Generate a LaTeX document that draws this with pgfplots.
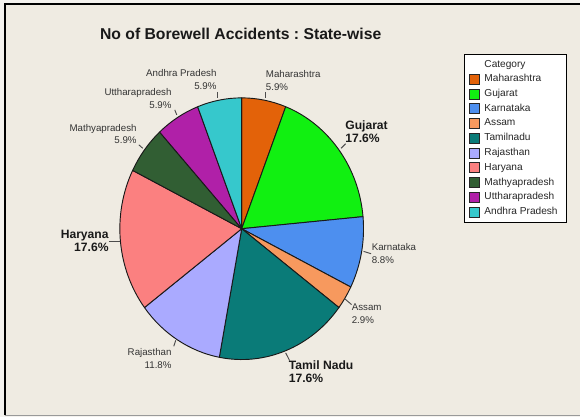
\documentclass[border=0pt]{standalone}
\usepackage{fontspec}
\setmainfont{Liberation Sans}
\usepackage{pgfplots}
\usepackage{pgfplotstable}
\pgfplotsset{compat=1.18}
\frenchspacing

\definecolor{outerbg}{HTML}{F4F2EE}
\definecolor{bg}{HTML}{EFEBE2}
\definecolor{cMah}{HTML}{E36209}
\definecolor{cGuj}{HTML}{11F011}
\definecolor{cKar}{HTML}{4D8FEF}
\definecolor{cAss}{HTML}{F7995E}
\definecolor{cTam}{HTML}{0A7B78}
\definecolor{cRaj}{HTML}{AAAAFF}
\definecolor{cHar}{HTML}{FB8080}
\definecolor{cMat}{HTML}{315E33}
\definecolor{cUtt}{HTML}{B020A8}
\definecolor{cAnd}{HTML}{36C8CC}
\definecolor{lbl}{HTML}{333333}

\pgfplotstableread[col sep=comma]{
state,count,pct,fillc
Maharashtra,2,5.9,cMah
Gujarat,6,17.6,cGuj
Karnataka,3,8.8,cKar
Assam,1,2.9,cAss
Tamilnadu,6,17.6,cTam
Rajasthan,4,11.8,cRaj
Haryana,6,17.6,cHar
Mathyapradesh,2,5.9,cMat
Uttharapradesh,2,5.9,cUtt
Andhra Pradesh,2,5.9,cAnd
}\piedata

\newcommand{\reg}{\fontsize{7.3}{9.75}\selectfont}
\newcommand{\bld}{\fontsize{9.1}{9.7}\selectfont\bfseries}

\begin{document}
\begin{tikzpicture}
\begin{axis}[
  x=0.75pt, y=0.75pt,
  xmin=0, xmax=581, ymin=0, ymax=418,
  hide axis, clip=false,
  legend cell align=left,
  legend image code/.code={\draw[#1, draw=black!85, line width=0.5pt] (0pt,-3.75pt) rectangle (7.5pt,3.75pt);},
  legend style={at={(axis cs:465,364)}, anchor=north west, draw=black, line width=0.6pt,
    fill=white, inner xsep=3pt, inner ysep=4pt, row sep=3.1pt, column sep=0pt,
    font=\fontsize{7.6}{9}\selectfont, text=black!85,
    nodes={inner xsep=3.75pt, inner ysep=0pt, text height=5.6pt, text depth=1.9pt}},
]
% background and frame
\fill[outerbg] (axis cs:0,0) rectangle (axis cs:581,418);
\fill[bg] (axis cs:5,2) rectangle (axis cs:581,414);
\draw[black, line width=1.1pt] (axis cs:5,2) -- (axis cs:5,414) -- (axis cs:581,414);
\draw[black!40, line width=1pt] (axis cs:5,2) -- (axis cs:581,2);

% legend header
\addlegendimage{empty legend}
\addlegendentry{Category}

% wedges from the table
\xdef\cum{0}
\pgfplotsinvokeforeach{0,...,9}{%
  \pgfplotstablegetelem{#1}{count}\of\piedata \let\cnt\pgfplotsretval
  \pgfplotstablegetelem{#1}{fillc}\of\piedata \let\fc\pgfplotsretval
  \pgfplotstablegetelem{#1}{state}\of\piedata \let\nm\pgfplotsretval
  \pgfmathsetmacro\sa{90-360*\cum/34}%
  \pgfmathsetmacro\cumn{\cum+\cnt}%
  \pgfmathsetmacro\ea{90-360*\cumn/34}%
  \xdef\cum{\cumn}%
  \pgfmathsetmacro\px{242+122*cos(\sa)}%
  \pgfmathsetmacro\py{189+131*sin(\sa)}%
  \edef\mywedge{\noexpand\filldraw[fill=\fc, draw=black!90, line width=0.7pt, line join=round]
    (axis cs:242,189) -- (axis cs:\px,\py) arc[start angle=\sa, end angle=\ea, x radius=91.5pt, y radius=98.25pt] -- cycle;
    \noexpand\addlegendimage{fill=\fc}\noexpand\addlegendentry{\nm}}%
  \mywedge
}

% title
\node[anchor=base, font=\fontsize{11.8}{14}\selectfont\bfseries, text=black!90] at (axis cs:241,378) {No of Borewell Accidents : State-wise};

% leader lines
\begin{scope}[draw=black!70, line width=0.7pt]
\draw (axis cs:265.5,326) -- (axis cs:265.5,320);
\draw (axis cs:218,326) -- (axis cs:218,320);
\draw (axis cs:175,308) -- (axis cs:177,303);
\draw (axis cs:139,273) -- (axis cs:143,269.5);
\draw (axis cs:346,274) -- (axis cs:341.5,269.5);
\draw (axis cs:109,176.5) -- (axis cs:120,176.5);
\draw (axis cs:364,166.3) -- (axis cs:371.5,164);
\draw (axis cs:345,119) -- (axis cs:352,113);
\draw (axis cs:286,64.7) -- (axis cs:290,57);
\draw (axis cs:176,77.3) -- (axis cs:174,71.3);
\end{scope}

% slice labels
\node[anchor=west, align=left, inner sep=0pt, font=\reg, text=lbl] at (axis cs:266,337.5) {Maharashtra\\5.9\%};
\node[anchor=east, align=right, inner sep=0pt, font=\reg, text=lbl] at (axis cs:217,338) {Andhra Pradesh\\5.9\%};
\node[anchor=east, align=right, inner sep=0pt, font=\reg, text=lbl] at (axis cs:172,319.2) {Uttharapradesh\\5.9\%};
\node[anchor=east, align=right, inner sep=0pt, font=\reg, text=lbl] at (axis cs:137,283.8) {Mathyapradesh\\5.9\%};
\node[anchor=west, align=left, inner sep=0pt, font=\bld, text=black!90] at (axis cs:345.5,286.3) {Gujarat\\17.6\%};
\node[anchor=west, align=left, inner sep=0pt, font=\reg, text=lbl] at (axis cs:372,164.2) {Karnataka\\8.8\%};
\node[anchor=west, align=left, inner sep=0pt, font=\reg, text=lbl] at (axis cs:352,104.2) {Assam\\2.9\%};
\node[anchor=west, align=left, inner sep=0pt, font=\bld, text=black!90] at (axis cs:289,45.7) {Tamil Nadu\\17.6\%};
\node[anchor=east, align=right, inner sep=0pt, font=\reg, text=lbl] at (axis cs:172,58.8) {Rajasthan\\11.8\%};
\node[anchor=east, align=right, inner sep=0pt, font=\bld, text=black!90] at (axis cs:109,176.7) {Haryana\\17.6\%};
\end{axis}
\end{tikzpicture}
\end{document}
